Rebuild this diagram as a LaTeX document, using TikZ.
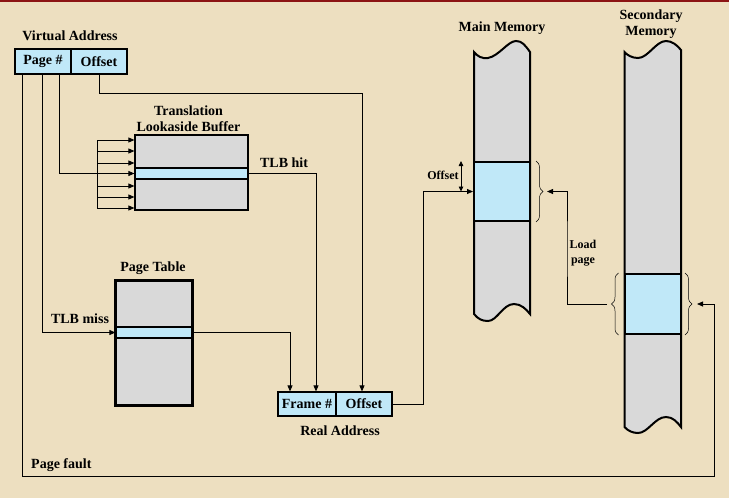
\documentclass[tikz,border=0pt]{standalone}
\usepackage{fontspec}
\setmainfont{Liberation Serif}
\usetikzlibrary{arrows.meta,decorations.pathreplacing,calc}
\definecolor{parch}{RGB}{237,223,192}
\definecolor{cellblue}{RGB}{192,232,248}
\definecolor{cellgray}{RGB}{217,217,217}
\definecolor{framered}{RGB}{140,20,20}
\begin{document}
\begin{tikzpicture}[x=1pt,y=-1pt,
  lbl/.style={font=\fontsize{14}{16}\selectfont\bfseries, inner sep=0pt, align=center},
  slbl/.style={font=\fontsize{12}{15}\selectfont\bfseries, inner sep=0pt, align=center},
  cell/.style={draw=black, line width=1.2pt, fill=cellblue, minimum height=25pt, inner sep=0pt, font=\fontsize{14}{15}\selectfont\bfseries},
  tbl/.style={draw=black, line width=1.2pt, fill=cellgray, inner sep=0pt},
  row/.style={draw=black, line width=1.2pt, fill=cellblue, inner sep=0pt},
  mem/.style={draw=black, line width=2pt, fill=cellgray},
  conn/.style={draw=black, line width=0.8pt},
  tip/.style={-{Triangle[length=6pt,width=5pt]}},
  dtip/.style={{Triangle[length=5pt,width=4.5pt]}-{Triangle[length=5pt,width=4.5pt]}},
  brc/.style={decorate, decoration={brace, amplitude=7pt}, line width=0.5pt},
]
% background
\fill[parch] (0,0) rectangle (729,498);
\useasboundingbox (0,0) rectangle (729,498);
\fill[framered] (0,0) rectangle (729,1.5);

% virtual address
\node[lbl] (vlabel) at (70,36) {Virtual Address};
\node[cell, minimum width=56pt] (vpage) at (43,61.5) {Page \#};
\node[cell, minimum width=56pt] (voff) at (99,61.5) {Offset};

% TLB
\node[lbl] (tlblabel) at (188.5,119) {Translation\\Lookaside Buffer};
\node[tbl, minimum width=113pt, minimum height=75pt] (tlb) at (191.5,172.5) {};
\node[row, minimum width=113pt, minimum height=11pt] (tlbrow) at (191.5,173.5) {};
\node[lbl] (hitlabel) at (284,163) {TLB hit};

% page table
\node[lbl] (ptlabel) at (153,268) {Page Table};
\node[tbl, line width=2.2pt, minimum width=76pt, minimum height=124pt] (pt) at (154,343) {};
\node[row, minimum width=76pt, minimum height=11pt] (ptrow) at (154,332.5) {};
\draw[line width=2.2pt] (pt.north west) rectangle (pt.south east);
\node[lbl] (misslabel) at (80,319) {TLB miss};

% real address
\node[cell, minimum width=58pt, minimum height=24pt] (rframe) at (307,404) {Frame \#};
\node[cell, minimum width=56pt, minimum height=24pt] (roff) at (364,404) {Offset};
\node[lbl] (ralabel) at (340,431) {Real Address};

% main memory
\node[lbl] (mmlabel) at (502,28) {Main Memory};
\path[mem] (474,52) -- (474,314)
  .. controls (478,319) and (482,321) .. (488,321)
  .. controls (497,321) and (503,304) .. (514,304)
  .. controls (521,304) and (526,309) .. (530,314)
  -- (530,52)
  .. controls (525,45) and (522,41) .. (516,41)
  .. controls (508,41) and (499,56) .. (488,58)
  .. controls (482,59) and (477,56) .. (474,52) -- cycle;
\node[row, line width=2pt, minimum width=56pt, minimum height=59pt] (mmrow) at (502,191.5) {};

% secondary memory
\node[lbl] (smlabel) at (651,24) {Secondary\\Memory};
\path[mem] (624.5,52) -- (624.5,427)
  .. controls (628,431) and (633,433) .. (638,433)
  .. controls (648,433) and (655,417) .. (666,417)
  .. controls (673,417) and (677,422) .. (681,427)
  -- (681,50)
  .. controls (677,45) and (672,41) .. (666,41)
  .. controls (656,41) and (648,58) .. (638,58)
  .. controls (632,58) and (627,55) .. (624.5,52) -- cycle;
\node[row, line width=2pt, minimum width=56.5pt, minimum height=60pt] (smrow) at (652.75,304) {};

% braces
\draw[brc] ([xshift=5pt]mmrow.north east) -- ([xshift=5pt]mmrow.south east);
\draw[brc] ([xshift=-5pt]smrow.south west) -- ([xshift=-5pt]smrow.north west);
\draw[brc] ([xshift=3pt]smrow.north east) -- ([xshift=3pt]smrow.south east);
\coordinate (mmbt) at (547,191.5);
\coordinate (smlt) at (607,304);
\coordinate (smrt) at (697,304);

% TLB fan of arrows
\coordinate (fa) at (97,140);
\coordinate (fb) at (97,151);
\coordinate (fc) at (97,163);
\coordinate (fd) at (97,186);
\coordinate (fe) at (97,197);
\coordinate (ff) at (97,208);
\draw[conn] (fa) -- (ff);
\foreach \c in {fa,fb,fc,fd,fe,ff}
  \draw[conn,tip] (\c) -- (tlb.west |- \c);

% connectors
\coordinate (pfc) at (714,476);
\draw[conn,tip] ([xshift=8pt]vpage.south west) |- (pfc) |- (smrt);
\draw[conn,tip] ([xshift=28pt]vpage.south west) |- (ptrow.west);
\draw[conn,tip] ([xshift=45pt]vpage.south west) |- (tlbrow.west);
\coordinate (offy) at (0,93);
\draw[conn,tip] (voff.south) |- ([xshift=-2pt]roff.north |- offy) -- ([xshift=-2pt]roff.north);
\draw[conn,tip] ([xshift=-1pt]tlbrow.east) -| ([xshift=9pt]rframe.north);
\draw[conn,tip] (ptrow.east) -| ([xshift=-17pt]rframe.north);
\coordinate (rmx) at (423,404);
\draw[conn,tip] (roff.east) -- (rmx) |- (mmrow.west);
\draw[conn,dtip] ([xshift=-12pt]mmrow.north west) -- ([xshift=-12pt]mmrow.west);
\node[slbl] (offlabel) at (443,175) {Offset};
\coordinate (lpc) at (567,250);
\draw[conn,tip] (smlt) -| (lpc) |- (mmbt);
\node[slbl] (lplabel) at (583,253) {Load\\page};
\node[lbl, anchor=west] (pflabel) at (31,465) {Page fault};
\end{tikzpicture}
\end{document}
